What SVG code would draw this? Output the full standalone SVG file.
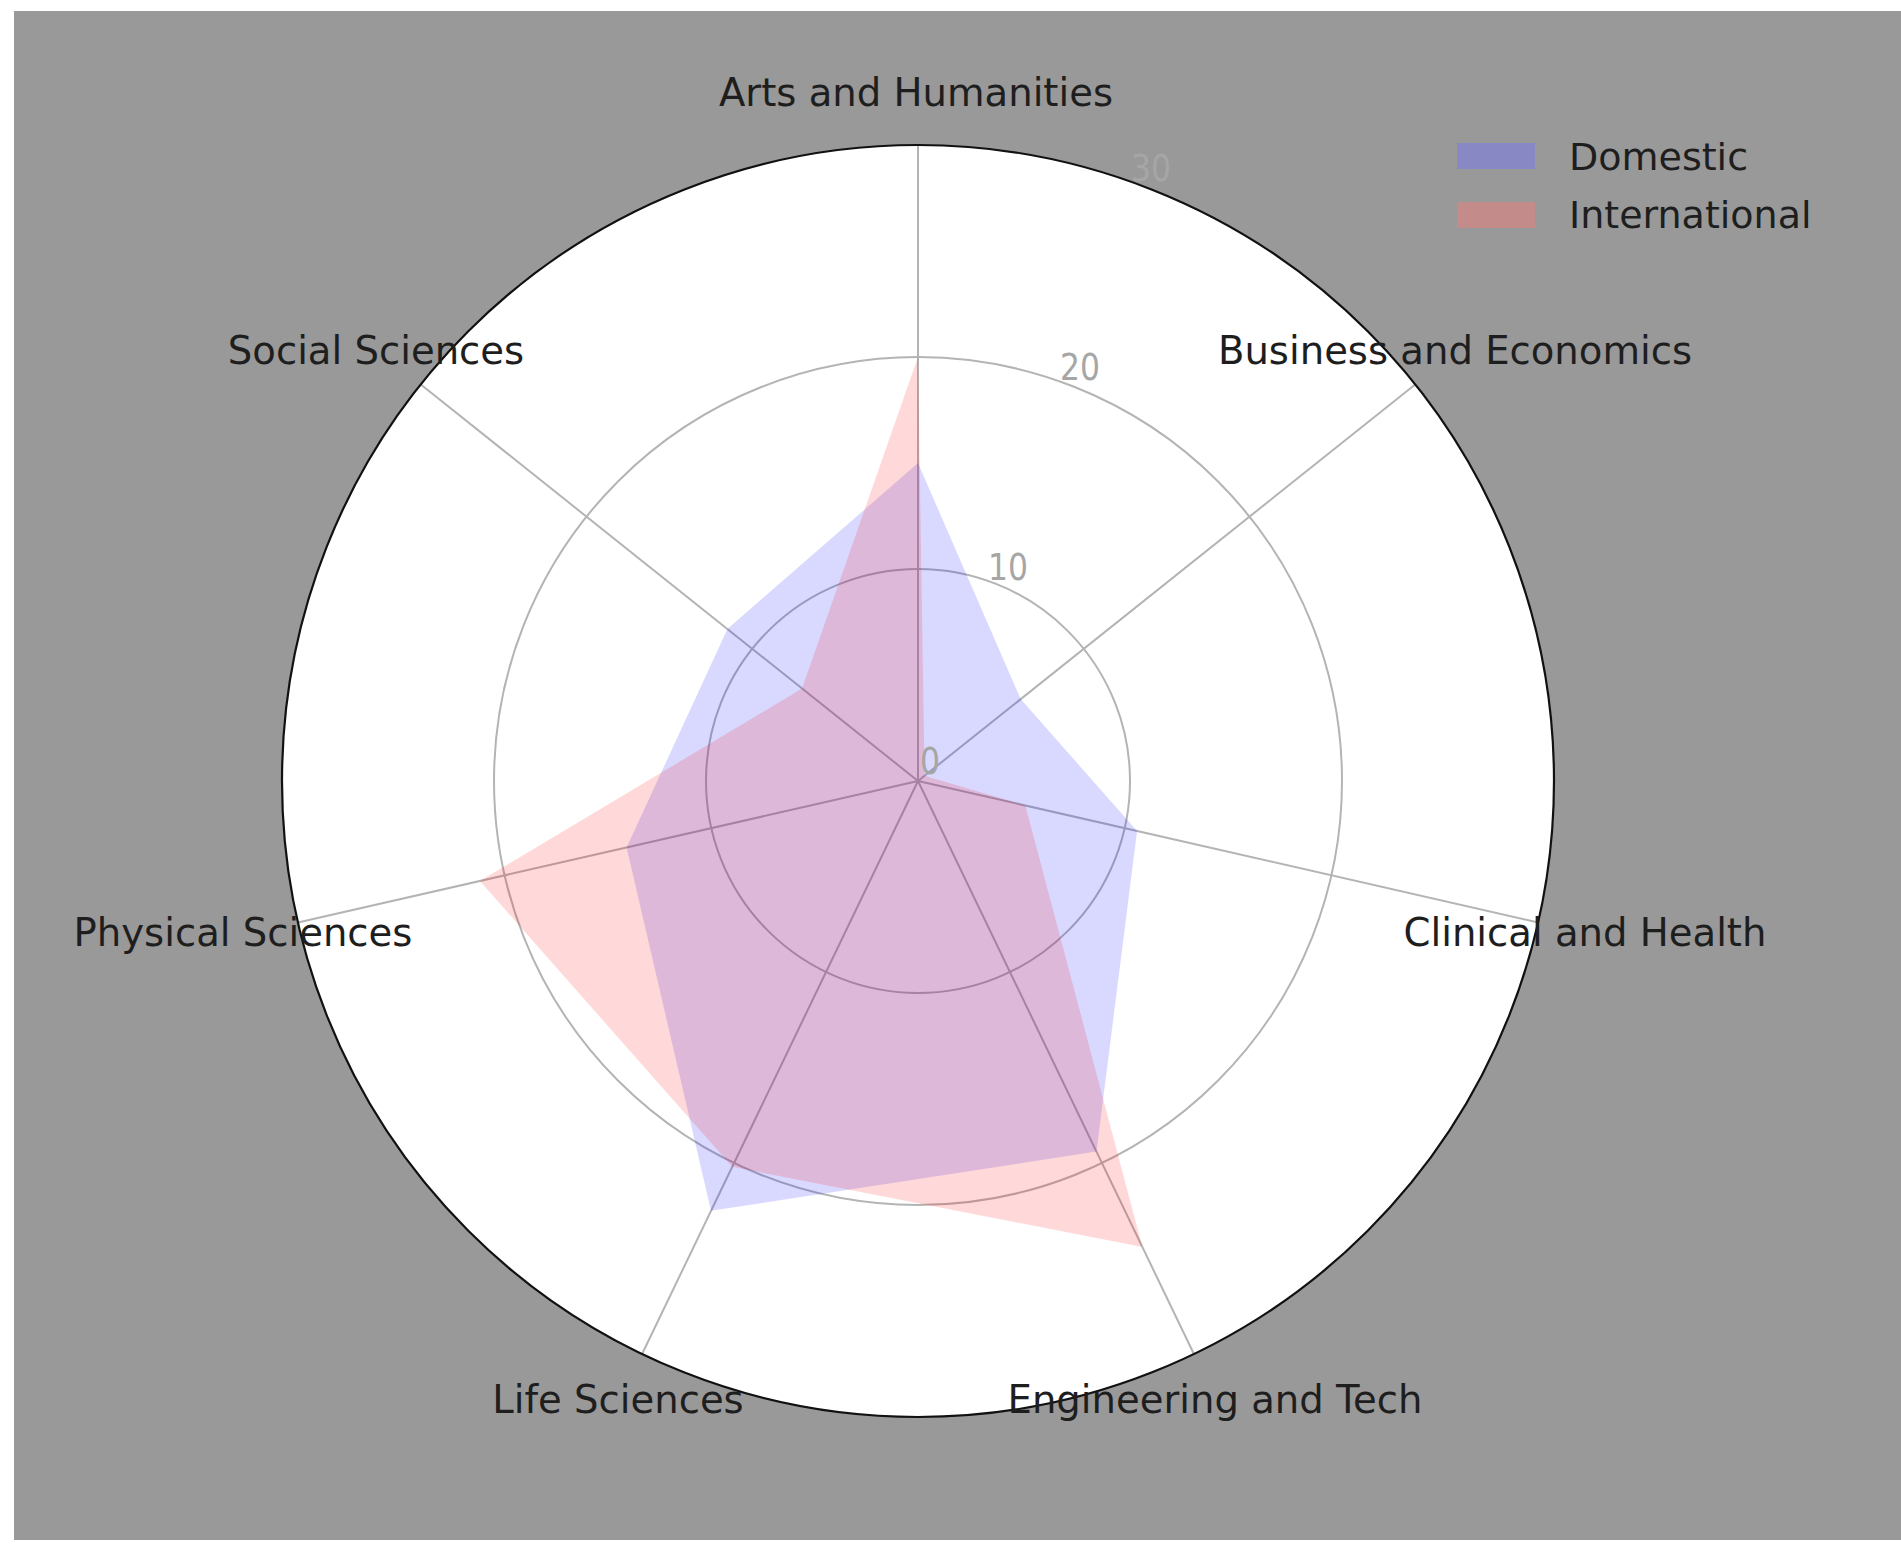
<svg xmlns="http://www.w3.org/2000/svg" width="1901" height="1545" viewBox="0 0 1901 1545">
<style>
.lbl{font-family:"DejaVu Sans",sans-serif;font-size:38.6px;fill:#1e1e1e;text-anchor:middle}
.tick{font-family:"DejaVu Sans",sans-serif;font-size:37px;fill:#a6a6a6;text-anchor:middle}
.leg{font-family:"DejaVu Sans",sans-serif;font-size:38px;fill:#1e1e1e}
.grid{fill:none;stroke:#b4b4b4;stroke-width:2}
</style>
<rect x="0" y="0" width="1901" height="1545" fill="#ffffff"/>
<rect x="14" y="11" width="1887" height="1529" fill="#999999"/>
<g id="axes">
<circle cx="918" cy="781" r="636" fill="#ffffff"/>
<g id="grid">
<circle class="grid" cx="918" cy="781" r="212"/>
<circle class="grid" cx="918" cy="781" r="424"/>
<path class="grid" d="M918 781L918 145M918 781L1415.2 384.5M918 781L1538.1 922.5M918 781L1193.9 1354M918 781L642.1 1354M918 781L297.9 922.5M918 781L420.8 384.5"/>
</g>
</g>
<g id="series">
<polygon id="domestic" points="918,463 1020.7,699.1 1137.1,831 1096.5,1151.6 711,1210.8 626.6,847.5 727.4,629" fill="#0000ff" fill-opacity="0.15"/>
<polygon id="international" points="918,357 924.6,775.7 1025.4,805.5 1142.4,1247.1 732.2,1166.8 479.9,881 802,688.5" fill="#ff0000" fill-opacity="0.15"/>
</g>
<circle cx="918" cy="781" r="636" fill="none" stroke="#111111" stroke-width="2.2"/>
<g id="ticks">
<text class="tick" x="930" y="774" textLength="20" lengthAdjust="spacingAndGlyphs">0</text>
<text class="tick" x="1008" y="580" textLength="40" lengthAdjust="spacingAndGlyphs">10</text>
<text class="tick" x="1080" y="380" textLength="40" lengthAdjust="spacingAndGlyphs">20</text>
<text class="tick" x="1151" y="181" textLength="40" lengthAdjust="spacingAndGlyphs">30</text>
</g>
<g id="labels">
<text class="lbl" x="916" y="106">Arts and Humanities</text>
<text class="lbl" x="1455" y="364">Business and Economics</text>
<text class="lbl" x="1585" y="946">Clinical and Health</text>
<text class="lbl" x="1215" y="1413">Engineering and Tech</text>
<text class="lbl" x="618" y="1413">Life Sciences</text>
<text class="lbl" x="243" y="946">Physical Sciences</text>
<text class="lbl" x="376" y="364">Social Sciences</text>
</g>
<g id="legend">
<rect x="1457" y="143" width="78" height="26" fill="#8888c4"/>
<rect x="1457" y="202" width="78" height="26" fill="#c48b8b"/>
<text class="leg" x="1569" y="170">Domestic</text>
<text class="leg" x="1569" y="228">International</text>
</g>
</svg>
